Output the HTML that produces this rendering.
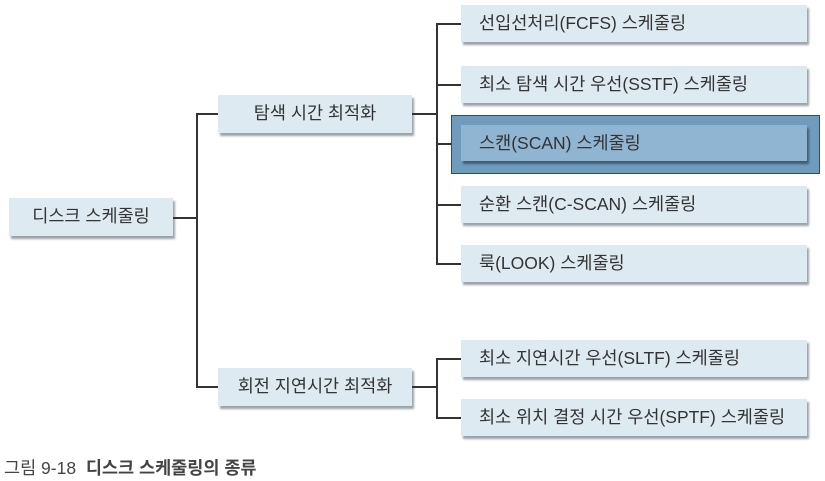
<!DOCTYPE html>
<html><head><meta charset="utf-8"><style>
body{margin:0;width:825px;height:481px;background:#fff;position:relative;overflow:hidden;font-family:"Liberation Sans","Noto Sans CJK KR",sans-serif;color:#333}
.b{position:absolute;background:#deeaf2;box-shadow:2px 3px 2px #9aa3aa;font-size:17.5px;line-height:37px;box-sizing:border-box;white-space:nowrap}
.l{position:absolute;background:#333}
</style></head><body>
<div class="b" style="left:9px;top:198px;width:164px;height:38px;text-align:center">디스크 스케줄링</div>
<div class="b" style="left:218px;top:95px;width:194px;height:38px;text-align:center">탐색 시간 최적화</div>
<div class="b" style="left:218px;top:368px;width:194px;height:38px;text-align:center">회전 지연시간 최적화</div>
<div style="position:absolute;left:451px;top:115px;width:369px;height:59px;background:#6f9cbd;border:1px solid #2f4d63;box-sizing:border-box"></div>
<div class="b" style="left:461px;top:5px;width:346px;height:37px;padding-left:18px">선입선처리(FCFS) 스케줄링</div>
<div class="b" style="left:461px;top:66px;width:346px;height:37px;padding-left:18px">최소 탐색 시간 우선(SSTF) 스케줄링</div>
<div class="b" style="left:461px;top:125px;width:346px;height:36px;padding-left:18px;background:#8fb5d3;box-shadow:2px 3px 2px #3f5e75">스캔(SCAN) 스케줄링</div>
<div class="b" style="left:461px;top:186px;width:346px;height:37px;padding-left:18px">순환 스캔(C-SCAN) 스케줄링</div>
<div class="b" style="left:461px;top:245px;width:346px;height:37px;padding-left:18px">룩(LOOK) 스케줄링</div>
<div class="b" style="left:461px;top:340px;width:346px;height:37px;padding-left:18px">최소 지연시간 우선(SLTF) 스케줄링</div>
<div class="b" style="left:461px;top:399px;width:346px;height:37px;padding-left:18px">최소 위치 결정 시간 우선(SPTF) 스케줄링</div>
<div class="l" style="left:173px;top:217px;width:24px;height:2px"></div>
<div class="l" style="left:196px;top:113px;width:2px;height:275px"></div>
<div class="l" style="left:196px;top:113px;width:22px;height:2px"></div>
<div class="l" style="left:196px;top:386px;width:22px;height:2px"></div>
<div class="l" style="left:412px;top:113px;width:25px;height:2px"></div>
<div class="l" style="left:436px;top:23px;width:2px;height:241px"></div>
<div class="l" style="left:436px;top:23px;width:25px;height:2px"></div>
<div class="l" style="left:436px;top:84px;width:25px;height:2px"></div>
<div class="l" style="left:436px;top:143px;width:15px;height:2px"></div>
<div class="l" style="left:436px;top:204px;width:25px;height:2px"></div>
<div class="l" style="left:436px;top:263px;width:25px;height:2px"></div>
<div class="l" style="left:412px;top:386px;width:25px;height:2px"></div>
<div class="l" style="left:436px;top:358px;width:2px;height:60px"></div>
<div class="l" style="left:436px;top:358px;width:25px;height:2px"></div>
<div class="l" style="left:436px;top:417px;width:25px;height:2px"></div>
<div style="position:absolute;left:4px;top:455px;font-size:17.5px;color:#444">그림 9-18 &nbsp;<b>디스크 스케줄링의 종류</b></div>
</body></html>
